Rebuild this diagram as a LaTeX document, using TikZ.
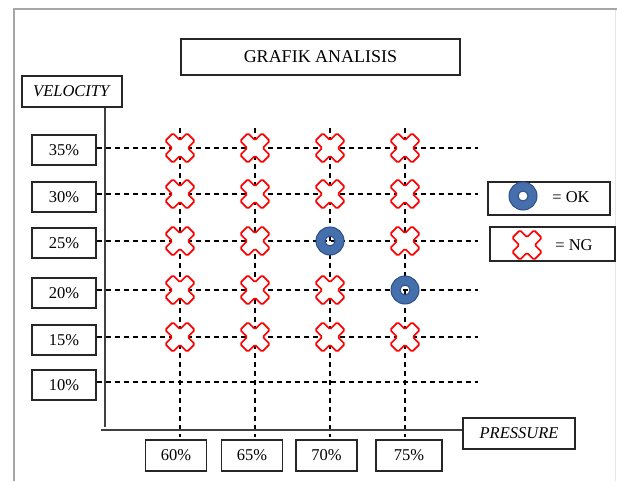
\documentclass[tikz,border=0pt]{standalone}
\usepackage{fontspec}
\setmainfont{Liberation Serif}
\definecolor{okblue}{RGB}{70,112,172}
\definecolor{okedge}{RGB}{44,78,138}
\tikzset{
  lbl/.style={draw=black!85, line width=1.1pt, inner sep=0pt, fill=white,
              font=\fontsize{16.5}{18}\selectfont},
  ylbl/.style={lbl, minimum width=64pt, minimum height=30pt},
  xlbl/.style={lbl, minimum width=61pt, minimum height=31pt},
  gridline/.style={black, line width=1.1pt, dash pattern=on 5pt off 4pt},
  axis/.style={black!75, line width=1.3pt},
  ngmark/.pic={
    \draw[red, line width=1.7pt, fill=white, rounded corners=1.5pt, rotate=45]
      (15.5,5.5) -- (5.5,5.5) -- (5.5,15.5) -- (-5.5,15.5) -- (-5.5,5.5)
      -- (-15.5,5.5) -- (-15.5,-5.5) -- (-5.5,-5.5) -- (-5.5,-15.5)
      -- (5.5,-15.5) -- (5.5,-5.5) -- (15.5,-5.5) -- cycle;
  },
  okmark/.pic={
    \fill[okblue, even odd rule] (0,0) circle (14) (0,0) circle (5);
    \draw[okedge, line width=1pt] (0,0) circle (14) (0,0) circle (5);
  }
}
\begin{document}
\begin{tikzpicture}[x=1pt, y=-1pt]
  \useasboundingbox (0,0) rectangle (617,481);
  % page frame
  \draw[black!35, line width=2pt] (14,481) -- (14,9) -- (617,9);
  \draw[black!10, line width=1pt] (615,10) -- (615,481);

  % title
  \node[lbl, minimum width=279pt, minimum height=36pt,
        font=\fontsize{18}{20}\selectfont] (title) at (320.5,57) {GRAFIK ANALISIS};

  % axis labels
  \node[lbl, minimum width=100pt, minimum height=31pt] (vel) at (72,91.5) {\textit{VELOCITY}};
  \node[lbl, minimum width=112pt, minimum height=31pt] (press) at (519,433.5) {\textit{PRESSURE}};

  % velocity levels
  \node[ylbl] (y35) at (64,150) {35\%};
  \node[ylbl] (y30) at (64,197) {30\%};
  \node[ylbl] (y25) at (64,243) {25\%};
  \node[ylbl] (y20) at (64,293) {20\%};
  \node[ylbl] (y15) at (64,340) {15\%};
  \node[ylbl] (y10) at (64,385) {10\%};

  % pressure levels
  \node[xlbl] (x60) at (176,455.5) {60\%};
  \node[xlbl] (x65) at (252,455.5) {65\%};
  \node[xlbl] (x70) at (326.5,455.5) {70\%};
  \node[xlbl, minimum width=66pt] (x75) at (409,455.5) {75\%};

  % grid end points
  \coordinate (r35) at (478,148);
  \coordinate (r30) at (478,194);
  \coordinate (r25) at (478,241);
  \coordinate (r20) at (478,290);
  \coordinate (r15) at (478,337);
  \coordinate (r10) at (478,382);
  \foreach \c/\x in {60/180, 65/255, 70/330, 75/405} {
    \coordinate (t\c) at (\x,128);
    \coordinate (b\c) at (\x,437);
  }

  % dashed grid
  \foreach \r in {35,30,25,20,15,10}
    \draw[gridline] (y\r.east |- r\r) -- (r\r);
  \foreach \c in {60,65,70,75}
    \draw[gridline] (t\c) -- (b\c);

  % axes
  \coordinate (origin) at (105,430);
  \draw[axis] (vel.south -| origin) -- ([yshift=3pt]origin);
  \draw[axis] ([xshift=-4pt]origin) -- (press.west |- origin);

  % results
  \foreach \c/\x in {60/180, 65/255, 70/330, 75/405}
    \foreach \r/\y in {35/148, 30/194, 25/241, 20/290, 15/337} {
      \pgfmathtruncatemacro{\isok}{(\c==70 && \r==25) || (\c==75 && \r==20)}
      \ifnum\isok=1
        \pic at (\x,\y) {okmark};
      \else
        \pic at (\x,\y) {ngmark};
      \fi
    }

  % legend
  \node[lbl, minimum width=122pt, minimum height=33pt] (legok) at (549,198.5) {};
  \node[lbl, minimum width=125pt, minimum height=34pt] (legng) at (552.5,244) {};
  \pic at (523,196) {okmark};
  \pic at (527,245) {ngmark};
  \node[font=\fontsize{16.5}{18}\selectfont, inner sep=0pt] (okt) at (571,197) {= OK};
  \node[font=\fontsize{16.5}{18}\selectfont, inner sep=0pt] (ngt) at (574,245) {= NG};
\end{tikzpicture}
\end{document}
